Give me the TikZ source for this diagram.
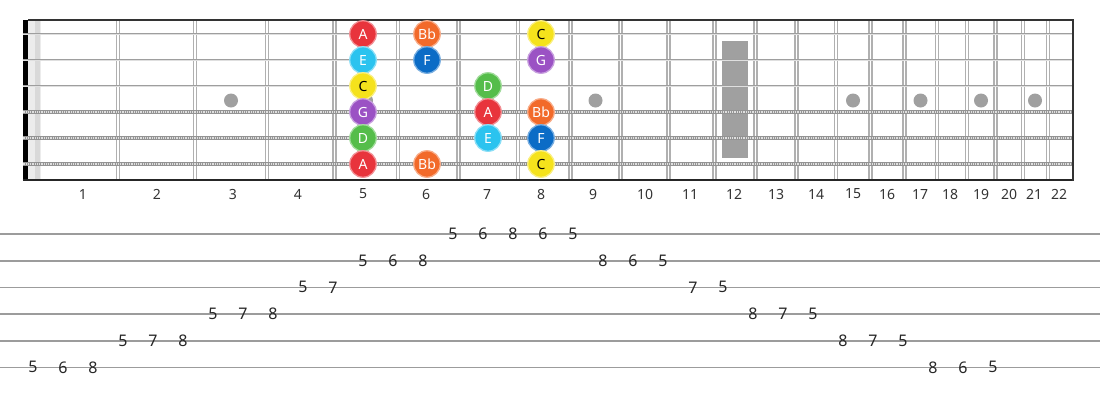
\documentclass[tikz,border=0pt]{standalone}
\usepackage{fontspec}
\setmainfont{Noto Sans}
\definecolor{cA}{HTML}{E8343C}
\definecolor{cBb}{HTML}{F26A2A}
\definecolor{cC}{HTML}{F5E21C}
\definecolor{cD}{HTML}{55BD4A}
\definecolor{cE}{HTML}{2BC3EF}
\definecolor{cF}{HTML}{0B6CC6}
\definecolor{cG}{HTML}{9B52C4}
\definecolor{fretc}{HTML}{B0B0B0}
\definecolor{dotc}{HTML}{A0A0A0}
\definecolor{tabl}{HTML}{9C9C9C}
\tikzset{
  notec/.style={circle, minimum size=26.5pt, inner sep=0pt, line width=1.3pt, font=\fontsize{14}{14}\selectfont},
  fretline/.style={draw=fretc, line width=1.3pt},
  plainstr/.style={draw=fretc!90!black, line width=2.8pt},
  woundstr/.style={draw=gray!85, line width=4pt},
  woundtex/.style={draw=white!75!gray, line width=1.8pt, dash pattern=on 0.9pt off 0.9pt},
  fretnum/.style={text=black!80, font=\fontsize{14}{14}\selectfont},
  tabnum/.style={text=black!85, font=\fontsize{16}{16}\selectfont, inner sep=1pt},
  tabline/.style={draw=tabl, line width=1.6pt},
  inlay/.style={fill=dotc, draw=none}
}
\begin{document}
\begin{tikzpicture}[x=1pt,y=-1pt]
\useasboundingbox (0,0) rectangle (1100,400);
% nut band
\fill[white!85!gray] (28,20) rectangle (41,180);
\fill[white!70!gray] (35,20) rectangle (40,180);
\fill[black] (22.5,19.5) rectangle (28,180.5);
% frets
\foreach \f in {118,195,267,334.5,398,458.5,518,570.5,620.5,668.5,714.5,755.5,796.5,836,870.5,904.5,937,967,995.5,1023,1048}{
  \draw[fretline] (\f-1.6,20) -- (\f-1.6,180);
  \draw[fretline] (\f+1.6,20) -- (\f+1.6,180);
}
% inlays
\foreach \x in {231,366,595.5,853,920.5,981,1035}{
  \fill[inlay] (\x,100.5) circle (7);
}
\fill[inlay] (722,41) rectangle (748,158);
% strings
\foreach \y in {34,60,86}{
  \draw[plainstr] (22.5,\y) -- (1073,\y);
  \draw[draw=white!75!gray, line width=0.8pt] (22.5,\y) -- (1073,\y);
}
\foreach \y in {112,138,164}{
  \draw[woundstr] (22.5,\y) -- (1073,\y);
  \draw[woundtex] (22.5,\y) -- (1073,\y);
}
% border
\draw[black!80, line width=1.4pt] (28,20) -- (1073,20);
\draw[black!85, line width=1.6pt] (22.5,180) -- (1073.5,180);
\draw[black!80, line width=1.6pt] (1073,19.3) -- (1073,180.7);
% fret numbers
\foreach \x [count=\i] in {83,157,233,298,363,426,487,541,593,645,690,734,776,816,853,887,920,950,981,1009,1034,1059}{
  \node[fretnum] (fn\i) at (\x,194) {\i};
}
% notes
\foreach \x/\y/\c/\t/\tc [count=\k] in {
  363/34/cA/A/white, 427/34/cBb/Bb/white, 541/34/cC/C/black,
  363/60/cE/E/white, 427/60/cF/F/white, 541/60/cG/G/white,
  363/86/cC/C/black, 488/86/cD/D/white,
  363/112/cG/G/white, 488/112/cA/A/white, 541/112/cBb/Bb/white,
  363/138/cD/D/white, 488/138/cE/E/white, 541/138/cF/F/white,
  363/164/cA/A/white, 427/164/cBb/Bb/white, 541/164/cC/C/black}{
  \node[notec, fill=\c, draw=\c!55!white, text=\tc] (note\k) at (\x,\y) {\t};
}
% tab lines
\foreach \y in {234,260.7,287.3,314,340.7,367.3}{
  \draw[tabline] (0,\y) -- (1100,\y);
}
% tab numbers
\foreach \s/\n [count=\i from 0] in {6/5,6/6,6/8,5/5,5/7,5/8,4/5,4/7,4/8,3/5,3/7,2/5,2/6,2/8,1/5,1/6,1/8,1/6,1/5,2/8,2/6,2/5,3/7,3/5,4/8,4/7,4/5,5/8,5/7,5/5,6/8,6/6,6/5}{
  \node[tabnum] (tab\i) at ({33+30*\i},{234+26.66*(\s-1)}) {\n};
}
\end{tikzpicture}
\end{document}
